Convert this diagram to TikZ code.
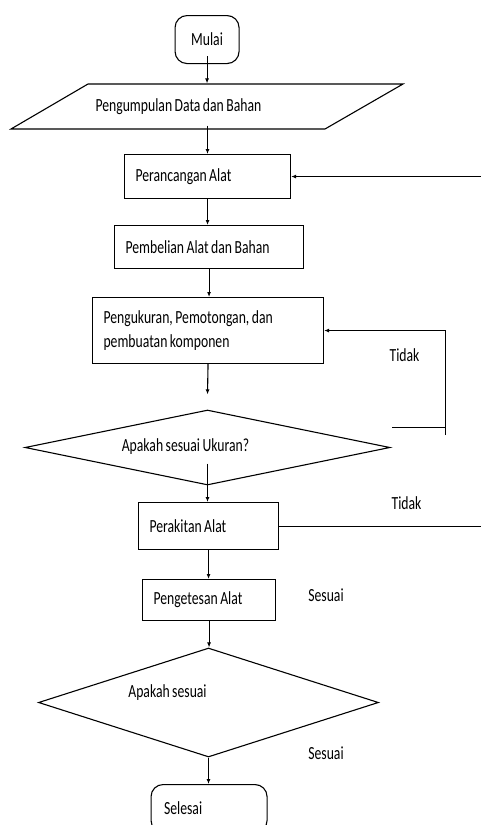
\documentclass[tikz,border=0pt]{standalone}
\usepackage{fontspec}
\setmainfont{Carlito}[FakeStretch=0.74]
\usetikzlibrary{shapes.geometric,arrows.meta}
\begin{document}
\begin{tikzpicture}[x=1pt,y=-1pt, line width=1.1pt,
  every node/.style={font=\fontsize{18.5}{21}\selectfont},
  procbox/.style={draw, rectangle, align=left, inner xsep=11pt, inner ysep=0pt, anchor=north west,
    execute at begin node={\spaceskip=0.8\fontdimen2\font\relax}},
  term/.style={draw, rounded corners=12pt, anchor=north west, inner sep=0pt},
  decide/.style={draw, diamond, inner sep=0pt},
  arr/.style={-{Latex[length=5pt,width=4pt]}},
  lbl/.style={inner sep=0pt, execute at begin node={\spaceskip=0.8\fontdimen2\font\relax}}]
\useasboundingbox (0,0) rectangle (481,825);

% nodes
\node[term, minimum width=64pt, minimum height=48pt] (mulai) at (174.5,15) {Mulai};
\draw (88,84) -- (403,84) -- (325,129) -- (11,129) -- cycle;
\node[inner sep=0pt, minimum width=1pt, minimum height=45pt] (data) at (207.5,106.5) {};
\node[lbl, anchor=west] (datat) at (95,107) {Pengumpulan Data dan Bahan};
\node[procbox, text width=144pt, minimum height=44pt] (ranc) at (124,154) {Perancangan Alat};
\node[procbox, text width=167pt, minimum height=43pt] (pemb) at (114,225) {Pembelian Alat dan Bahan};
\node[procbox, text width=209pt, minimum height=66pt, font=\fontsize{18.5}{24}\selectfont] (ukur) at (92,297)
  {Pengukuran, Pemotongan, dan\\pembuatan komponen};
\node[decide, minimum width=365pt, minimum height=75pt] (cek1) at (207.5,447.5) {};
\node[lbl] (cek1t) at (185.5,447) {Apakah sesuai Ukuran?};
\node[procbox, text width=118pt, minimum height=47pt] (rakit) at (138,502) {Perakitan Alat};
\node[procbox, text width=111pt, minimum height=41pt] (tes) at (142,579) {Pengetesan Alat};
\node[decide, minimum width=340pt, minimum height=109pt] (cek2) at (208.5,702.5) {};
\node[lbl] (cek2t) at (167.5,693) {Apakah sesuai};
\node[term, minimum width=116pt, minimum height=48pt, align=left, text width=90pt, inner xsep=13pt] (selesai) at (150.5,784) {Selesai};

% labels
\node[lbl] (tidak1) at (404.5,355) {Tidak};
\node[lbl] (tidak2) at (406.5,503) {Tidak};
\node[lbl] (sesuai1) at (326,595) {Sesuai};
\node[lbl] (sesuai2) at (326,753) {Sesuai};

% free ends
\coordinate (edge) at (481,0);
\coordinate (f1) at (392,427.5);
\coordinate (f2) at (445.5,427.5);
\coordinate (f3) at (445.5,435);

% connectors
\draw[arr] ([yshift=8pt]mulai.south) -- (mulai.south |- data.north);
\draw[arr] ([yshift=4pt]data.south) -- (data.south |- ranc.north);
\draw[arr] (ranc.south) -- (ranc.south |- pemb.north);
\draw[arr] (pemb.south) -- (pemb.south |- ukur.north);
\draw[arr] (ukur.south) -- ([yshift=15pt]cek1.north);
\draw (f1) -- (f2);
\draw[arr] (f3) -- (f3 |- ukur.east) -- (ukur.east);
\draw[arr] ([yshift=22pt]cek1.south) -- (cek1.south |- rakit.north);
\draw (rakit.east) -- (rakit.east -| edge);
\draw[arr] (ranc.east -| edge) -- (ranc.east);
\draw[arr] (rakit.south) -- (rakit.south |- tes.north);
\draw[arr] (tes.south) -- (tes.south |- cek2.north);
\draw[arr] (cek2.south) -- (cek2.south |- selesai.north);
\end{tikzpicture}
\end{document}
